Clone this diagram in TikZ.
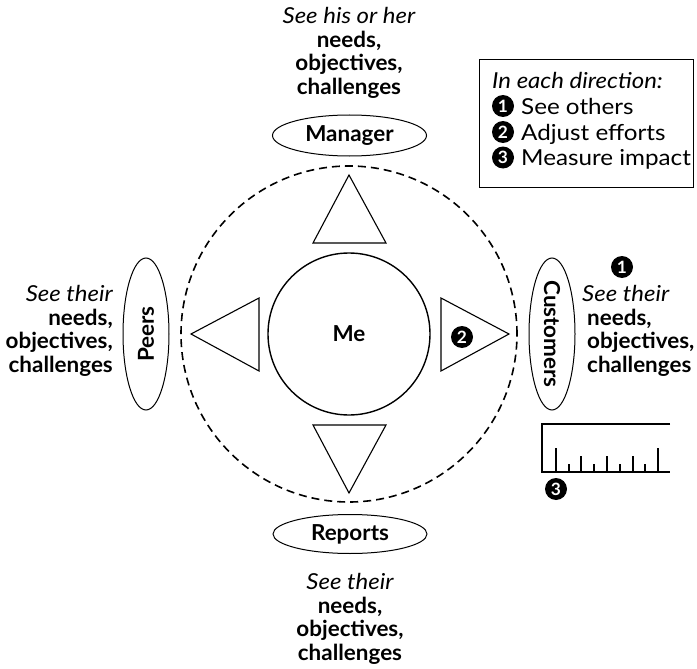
\documentclass[tikz,border=0pt]{standalone}
\usepackage{fontspec}
\setmainfont{Lato}[UprightFeatures={FakeStretch=1.1}, BoldFeatures={FakeStretch=1.02}, ItalicFeatures={FakeStretch=1.09}]
\usetikzlibrary{shapes.geometric}
\begin{document}
\begin{tikzpicture}[x=1pt,y=-1pt,
  txt/.style={font=\fontsize{22}{23.5}\selectfont, inner sep=0pt},
  party/.style={draw, ellipse, line width=1pt, inner sep=0pt, font=\fontsize{22}{23.5}\selectfont\bfseries},
  tri/.style={draw, line width=1.1pt, line join=miter},
  digit/.style={circle, fill=black, text=white, inner sep=0pt, minimum size=22pt, font=\fontsize{17}{17}\selectfont\bfseries}]
\useasboundingbox (0,0) rectangle (697,669);
% circles
\node[draw, circle, line width=1.4pt, minimum size=162pt, inner sep=0pt, font=\fontsize{22}{23.5}\selectfont\bfseries] (me) at (349,334) {Me};
\node[draw, circle, line width=1.6pt, dash pattern=on 8pt off 5pt, minimum size=336pt, inner sep=0pt] (zone) at (349,334) {};
% parties
\node[party, minimum width=154pt, minimum height=41pt] (manager) at (349.5,135.5) {Manager};
\node[party, minimum width=154pt, minimum height=39pt] (reports) at (350,534) {Reports};
\node[party, rotate=90, minimum width=152pt, minimum height=46pt] (peers) at (146,334) {Peers};
\node[party, rotate=-90, minimum width=152pt, minimum height=46pt] (customers) at (552,334) {Customers};
% triangles
\draw[tri] (349,175) -- (313,243) -- (386,243) -- cycle;
\draw[tri] (349,493) -- (313,425) -- (386,425) -- cycle;
\draw[tri] (191,334) -- (259,298) -- (259,371) -- cycle;
\draw[tri] (509,334) -- (441,298) -- (441,371) -- cycle;
\node[digit] (n2) at (462,337) {2};
% texts
\node[txt, align=center] (ttop) at (349,53) {\itshape See his or her\\\bfseries needs,\\\bfseries objectives,\\\bfseries challenges};
\node[txt, align=center] (tbot) at (350,619) {\itshape See their\\\bfseries needs,\\\bfseries objectives,\\\bfseries challenges};
\node[txt, align=right, anchor=east] (tleft) at (113,331) {\itshape See their\\\bfseries needs,\\\bfseries objectives,\\\bfseries challenges};
\node[txt, align=left, anchor=west] (tright) at (582,331) {\itshape See their\\\hspace*{5pt}\bfseries needs,\\\hspace*{5pt}\bfseries objectives,\\\hspace*{5pt}\bfseries challenges};
\node[digit] (n1) at (622,267) {1};
% legend
\node[draw, line width=1pt, minimum width=214pt, minimum height=127pt, inner sep=0pt] (legend) at (586,123.5) {};
\node[txt, anchor=base west, font=\fontsize{22}{23.5}\selectfont\itshape] (leg0) at (492,89) {In each direction:};
\node[digit] (d1) at (503,106) {1};
\node[txt, anchor=base west] (leg1) at (521,114) {See others};
\node[digit] (d2) at (503,132) {2};
\node[txt, anchor=base west] (leg2) at (521,140) {Adjust efforts};
\node[digit] (d3) at (503,157.5) {3};
\node[txt, anchor=base west] (leg3) at (521,165.5) {Measure impact};
% ruler
\draw[line width=1.2pt] (670,424) -- (542,424) -- (542,472) -- (670,472);
\foreach \x/\t in {556/448,569/464,581/456,594/464,607/456,620/464,633/456,645/464,658/448}
  \draw[line width=1.1pt] (\x,472) -- (\x,\t);
\node[digit] (n3) at (556,489) {3};
\end{tikzpicture}
\end{document}
